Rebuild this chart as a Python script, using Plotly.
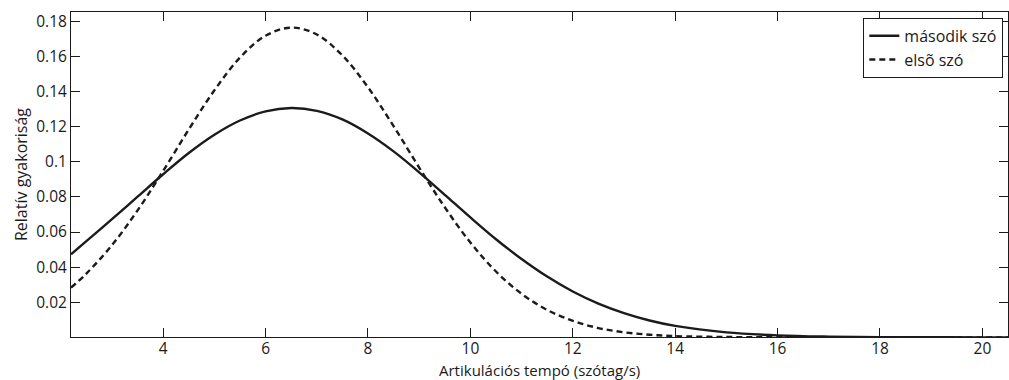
import plotly.graph_objects as go

# x positions (syllables/s) at which the curves were read
x_vals = [2.2, 2.5, 3.0, 3.5, 4.0, 4.5, 5.0, 5.5, 6.0, 6.5, 7.0, 7.5, 8.0, 8.5,
          9.0, 9.5, 10.0, 10.5, 11.0, 11.5, 12.0, 12.5, 13.0, 13.5, 14.0,
          15.0, 16.0, 17.0, 18.0, 19.0, 20.0, 20.5]

# "második szó" (solid)
masodik = [0.0473, 0.0548, 0.0673, 0.0801, 0.0929, 0.1050, 0.1154, 0.1235,
           0.1287, 0.1306, 0.1290, 0.1241, 0.1161, 0.1059, 0.0940, 0.0812,
           0.0683, 0.0559, 0.0446, 0.0346, 0.0261, 0.0192, 0.0138, 0.0096,
           0.0065, 0.0028, 0.0011, 0.0004, 0.0001, 0.00003, 0.00001, 0.0]

# "elsõ szó" (dashed)
elso = [0.0283, 0.0363, 0.0525, 0.0723, 0.0948, 0.1184, 0.1407, 0.1593,
        0.1718, 0.1764, 0.1725, 0.1606, 0.1424, 0.1203, 0.0967, 0.0741,
        0.0540, 0.0375, 0.0248, 0.0156, 0.0094, 0.0053, 0.0029, 0.0015,
        0.0007, 0.0002, 0.00003, 0.0, 0.0, 0.0, 0.0, 0.0]

x_ticks = [4, 6, 8, 10, 12, 14, 16, 18, 20]
y_ticks = [0.02, 0.04, 0.06, 0.08, 0.1, 0.12, 0.14, 0.16, 0.18]
y_tick_labels = ["0.02", "0.04", "0.06", "0.08", "0.1", "0.12", "0.14", "0.16", "0.18"]

FONT = "Open Sans"
TXT = "#1c1a1a"

fig = go.Figure()
fig.add_trace(go.Scatter(x=x_vals, y=masodik, mode="lines", name="második szó",
                         line=dict(color="#1c1a1a", width=2.4, shape="spline")))
fig.add_trace(go.Scatter(x=x_vals, y=elso, mode="lines", name="elsõ szó",
                         line=dict(color="#1c1a1a", width=2.4, shape="spline", dash="6px,4px")))

axis_common = dict(showline=True, linecolor="#1c1a1a", linewidth=1, mirror="ticks",
                   ticks="inside", ticklen=9, tickcolor="#1c1a1a", tickwidth=1,
                   showgrid=False, zeroline=False,
                   tickfont=dict(family=FONT, size=15.5, color=TXT))

fig.update_xaxes(range=[2.2, 20.5], tickvals=x_ticks,
                 ticktext=[str(t) for t in x_ticks], ticklabelstandoff=-3,
                 automargin=False, **axis_common)
fig.update_yaxes(range=[0.0002, 0.1853], tickvals=y_ticks, ticktext=y_tick_labels,
                 title=dict(text="Relatív gyakoriság",
                            font=dict(family=FONT, size=16, color=TXT), standoff=4),
                 automargin=False, **axis_common)

# x-axis title placed as an annotation just below the tick labels
fig.add_annotation(text="Artikulációs tempó (szótag/s)", xref="paper", yref="paper",
                   x=0.5, y=0, yanchor="top", xanchor="center", yshift=-22,
                   borderpad=0, showarrow=False,
                   font=dict(family=FONT, size=15, color=TXT))

fig.update_layout(
    width=1009, height=380,
    margin=dict(l=71, r=1, t=12, b=43),
    paper_bgcolor="white", plot_bgcolor="white",
    showlegend=True,
    legend=dict(x=0.995, xanchor="right", y=0.982, yanchor="top",
                bgcolor="white", bordercolor="#1c1a1a", borderwidth=1,
                font=dict(family=FONT, size=16, color=TXT),
                tracegroupgap=0, itemwidth=30),
    font=dict(family=FONT, color=TXT),
)

fig.write_html("out.html")
